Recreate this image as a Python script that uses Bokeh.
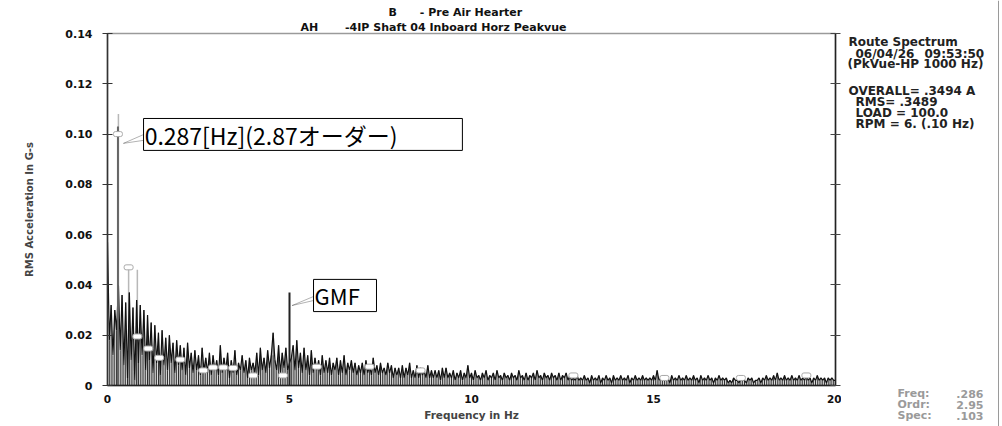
import numpy as np
from bokeh.plotting import figure
from bokeh.layouts import row
from bokeh.models import (Label, LinearAxis, Range1d, FixedTicker, CustomJSTickFormatter,
                          BoxAnnotation, PolyAnnotation, ColumnDataSource, Title, Span)
from bokeh.embed import file_html
from bokeh.resources import INLINE

# ---- spectrum data -------------------------------------------------------
LINE_SPACING_HZ = 0.05  # spacing of the spectral lines

# amplitude of each spectral line, in milli-g (mg), 0 .. 20 Hz
amp_0_5_mg = [
    57, 18, 32, 12, 30, 22, 40, 14, 36, 8, 33, 3, 37, 10, 31, 2, 34, 9, 32, 12,
    30, 6, 28, 10, 25, 5, 24, 9, 21, 4, 22, 8, 19, 6, 20, 9, 17, 5, 18, 8,
    16, 6, 15, 4, 17, 7, 13, 5, 14, 6, 12, 4, 15, 6, 11, 5, 13, 4, 12, 6,
    10, 4, 16, 5, 11, 6, 13, 3, 10, 5, 14, 4, 9, 6, 12, 5, 10, 3, 11, 6,
    9, 5, 13, 4, 15, 6, 11, 5, 14, 7, 12, 21, 10, 6, 16, 5, 13, 7, 15, 6,
]
amp_5_10_mg = [
    9, 11, 16, 6, 18, 7, 13, 5, 15, 6, 12, 4, 14, 5, 11, 6, 10, 4, 12, 5,
    10, 5, 11, 4, 9, 6, 11, 4, 10, 5, 12, 4, 9, 6, 10, 5, 9, 4, 8, 5,
    9, 4, 10, 5, 8, 4, 11, 5, 8, 4, 9, 5, 7, 4, 9, 5, 8, 3, 7, 4,
    7, 3, 8, 3, 7, 4, 9, 3, 6, 3, 8, 3, 7, 4, 6, 3, 8, 3, 6, 3,
    6, 3, 6, 2, 7, 3, 7, 3, 5, 3, 6, 2, 5, 3, 6, 2, 5, 3, 8, 3,
]
amp_10_20_mg = [
    5, 2, 6, 3, 4, 2, 5, 3, 6, 2, 4, 3, 5, 2, 6, 3, 4, 2, 5, 3,
    4, 2, 5, 3, 4, 2, 6, 3, 4, 2, 5, 2, 4, 3, 5, 2, 6, 3, 4, 2,
    5, 3, 4, 2, 5, 3, 4, 2, 5, 2, 4, 3, 5, 2, 4, 2, 3, 2, 4, 2,
    3, 2, 4, 2, 3, 1, 4, 2, 3, 2, 4, 1, 3, 2, 4, 2, 3, 1, 4, 2,
    3, 2, 4, 2, 3, 2, 4, 1, 3, 2, 4, 2, 3, 2, 4, 2, 3, 2, 3, 2,
    4, 2, 6, 2, 3, 2, 4, 2, 3, 1, 4, 2, 3, 2, 4, 2, 3, 2, 4, 2,
    3, 2, 4, 2, 3, 1, 4, 2, 3, 2, 4, 2, 3, 1, 3, 2, 4, 2, 3, 2,
    3, 1, 2, 1, 3, 2, 2, 1, 3, 2, 2, 1, 3, 2, 3, 1, 2, 2, 3, 1,
    3, 2, 4, 2, 3, 2, 4, 2, 5, 2, 3, 2, 4, 2, 3, 2, 4, 2, 3, 2,
    4, 2, 3, 2, 4, 2, 3, 1, 3, 2, 4, 2, 3, 2, 3, 1, 3, 2, 3, 2, 2,
]

# discrete peaks called out on the chart
peak_freq = [0.287, 5.0]
peak_amp = [0.103, 0.037]
peak_color = ["#666666", "#222222"]

# lighter overlay trace (reference spectrum) lines and its peak markers
overlay_freq = [0.30, 0.58, 0.82, 1.12, 1.42, 2.00, 2.63, 4.55, 5.75]
overlay_amp = [0.108, 0.047, 0.046, 0.0147, 0.011, 0.0103, 0.006, 0.012, 0.0075]
marker_freq = [0.287, 0.58, 0.82, 1.12, 1.42, 2.00, 2.63, 2.90, 3.18, 3.45, 4.00, 4.82, 5.75,
               7.20, 8.60, 12.8, 15.3, 17.4, 19.2]
marker_amp = [0.100, 0.047, 0.0195, 0.0147, 0.011, 0.0103, 0.006, 0.0072, 0.0072, 0.007,
              0.004, 0.004, 0.0075, 0.0075, 0.006, 0.004, 0.003, 0.003, 0.004]

amp_mg = amp_0_5_mg + amp_5_10_mg + amp_10_20_mg
freq = np.round(np.arange(len(amp_mg)) * LINE_SPACING_HZ, 3)
amp = np.array(amp_mg, dtype=float) / 1000.0

y_ticks = [0, 0.02, 0.04, 0.06, 0.08, 0.10, 0.12, 0.14]
x_ticks = [0, 5, 10, 15, 20]

BOLD = "DejaVu Sans"
NB = "\u00a0"

# ---- main spectrum figure -----------------------------------------------
p = figure(width=841, height=426, x_range=Range1d(0, 20), y_range=Range1d(0, 0.14),
           output_backend="svg", toolbar_location=None, frame_align=False,
           min_border_left=107, min_border_right=6, min_border_top=33, min_border_bottom=41)
p.grid.visible = False
p.outline_line_color = "#9a9a9a"
p.outline_line_width = 1.5
p.background_fill_color = "white"
p.border_fill_color = "white"

# left axis
ya = p.yaxis[0]
ya.ticker = FixedTicker(ticks=y_ticks)
ya.formatter = CustomJSTickFormatter(code="return tick == 0 ? '0' : tick.toFixed(2);")
ya.major_tick_in = 5
ya.major_tick_out = 5
ya.minor_tick_line_color = None
ya.axis_line_color = "#333333"
ya.axis_line_width = 1.5
ya.major_tick_line_color = "#333333"
ya.major_label_standoff = 10
ya.major_label_text_font = BOLD
ya.major_label_text_font_style = "bold"
ya.major_label_text_font_size = "11px"
ya.major_label_text_color = "#111111"
ya.axis_label = "RMS Acceleration In G-s"
ya.axis_label_text_font = BOLD
ya.axis_label_text_font_style = "bold"
ya.axis_label_text_font_size = "10px"
ya.axis_label_standoff = 27

# bottom axis
xa = p.xaxis[0]
xa.ticker = FixedTicker(ticks=x_ticks)
xa.major_tick_in = 0
xa.major_tick_out = 0
xa.minor_tick_line_color = None
xa.axis_line_color = "#222222"
xa.axis_line_width = 1.5
xa.major_label_standoff = 9
xa.major_label_text_font = BOLD
xa.major_label_text_font_style = "bold"
xa.major_label_text_font_size = "10.5px"
xa.major_label_text_color = "#111111"
xa.axis_label = "Frequency in Hz"
xa.axis_label_text_font = BOLD
xa.axis_label_text_font_style = "bold"
xa.axis_label_text_font_size = "10.5px"
xa.axis_label_standoff = 3

# right frame line with crossing ticks
blank = CustomJSTickFormatter(code="return '';")
right = LinearAxis(ticker=FixedTicker(ticks=y_ticks), formatter=blank,
                   axis_line_color="#222222", axis_line_width=1.5, major_tick_in=5, major_tick_out=5,
                   major_tick_line_color="#444444", minor_tick_line_color=None,
                   major_label_standoff=0)
p.add_layout(right, "right")

# two-line header above the frame (the later one sits on top)
p.add_layout(Title(text="AH" + NB * 7 + "-4IP Shaft 04 Inboard Horz Peakvue", align="left",
                   offset=193, standoff=0, text_font=BOLD, text_font_style="bold",
                   text_font_size="11px", text_color="#111111"), "above")
p.add_layout(Title(text="B" + NB * 6 + "- Pre Air Hearter", align="left",
                   offset=281, standoff=0, text_font=BOLD, text_font_style="bold",
                   text_font_size="11px", text_color="#111111"), "above")

# ---- spectrum -------------------------------------------------------------
ov = ColumnDataSource(dict(f=overlay_freq, a=overlay_amp, z=[0] * len(overlay_amp)))
p.segment(x0="f", y0="z", x1="f", y1="a", source=ov, line_color="#b8b8b8", line_width=1.5)

sp = ColumnDataSource(dict(f=freq, a=amp, z=np.zeros(len(amp))))
p.segment(x0="f", y0="z", x1="f", y1="a", source=sp, line_color="#2a2a2a", line_width=1)
p.line(x="f", y="a", source=sp, line_color="#111111", line_width=1.2)

pk = ColumnDataSource(dict(f=peak_freq, a=peak_amp, z=[0] * len(peak_amp), c=peak_color))
p.segment(x0="f", y0="z", x1="f", y1="a", source=pk, line_color="c", line_width=2)

p.rect(marker_freq, marker_amp, width=9, height=5, width_units="screen", height_units="screen",
       fill_color="white", line_color="#aaaaaa", line_width=1, border_radius=2)

# ---- callouts -------------------------------------------------------------
JP = "Noto Sans CJK JP"
p.add_layout(PolyAnnotation(xs=[0.99, peak_freq[0] + 0.15, 0.99], ys=[0.0998, 0.0963, 0.0975],
                            fill_color="white", fill_alpha=1, line_color="black", line_width=1))
p.add_layout(BoxAnnotation(left=0.99, right=9.75, bottom=0.0935, top=0.1062,
                           fill_color="white", fill_alpha=1, line_color="black", line_width=1,
                           line_alpha=1))
p.add_layout(Label(x=1.02, y=0.0996, text="0.287[Hz](2.87オーダー)", text_font=JP,
                   text_font_size="23px", text_baseline="middle", text_color="black"))

p.add_layout(PolyAnnotation(xs=[5.66, peak_freq[1] + 0.07, 5.66], ys=[0.0354, 0.0318, 0.0338],
                            fill_color="white", fill_alpha=1, line_color="black", line_width=1))
p.add_layout(BoxAnnotation(left=5.66, right=7.39, bottom=0.0294, top=0.0422,
                           fill_color="white", fill_alpha=1, line_color="black", line_width=1,
                           line_alpha=1))
p.add_layout(Label(x=5.69, y=0.0358, text="GMF", text_font=JP, text_font_size="22px",
                   text_baseline="middle", text_color="black"))

# ---- side panel with measurement info ------------------------------------
q = figure(width=161, height=426, x_range=Range1d(0, 161), y_range=Range1d(426, 0),
           output_backend="svg", toolbar_location=None, x_axis_type=None, y_axis_type=None,
           frame_align=False,
           min_border_left=0, min_border_right=0, min_border_top=0, min_border_bottom=0)
q.grid.visible = False
q.outline_line_color = None
q.background_fill_color = "white"
q.border_fill_color = "white"


def info(x, y, text, color, align="left", size="12px"):
    q.add_layout(Label(x=x, y=y, text=text, text_font=BOLD, text_font_style="bold",
                       text_font_size=size, text_color=color, text_align=align,
                       text_baseline="middle"))


RC = "#222222"
info(7, 41, "Route Spectrum", RC)
info(14, 53, "06/04/26", RC)
info(83, 53, "09:53:50", RC)
info(6, 63, "(PkVue-HP 1000 Hz)", RC)
info(7, 90, "OVERALL= .3494 A", RC)
info(14, 101, "RMS= .3489", RC)
info(14, 112, "LOAD = 100.0", RC)
info(14, 123, "RPM = 6. (.10 Hz)", RC)

GC = "#9a9a9a"
info(56, 393, "Freq:", GC, size="11px")
info(142, 393, ".286", GC, "right", "11px")
info(56, 404, "Ordr:", GC, size="11px")
info(142, 404, "2.95", GC, "right", "11px")
info(56, 415, "Spec:", GC, size="11px")
info(142, 415, ".103", GC, "right", "11px")

# page edge line
q.add_layout(Span(location=157, dimension="height", line_color="#9a9a9a", line_width=1))

layout = row(p, q)
open("out.html", "w").write(file_html(layout, INLINE))
